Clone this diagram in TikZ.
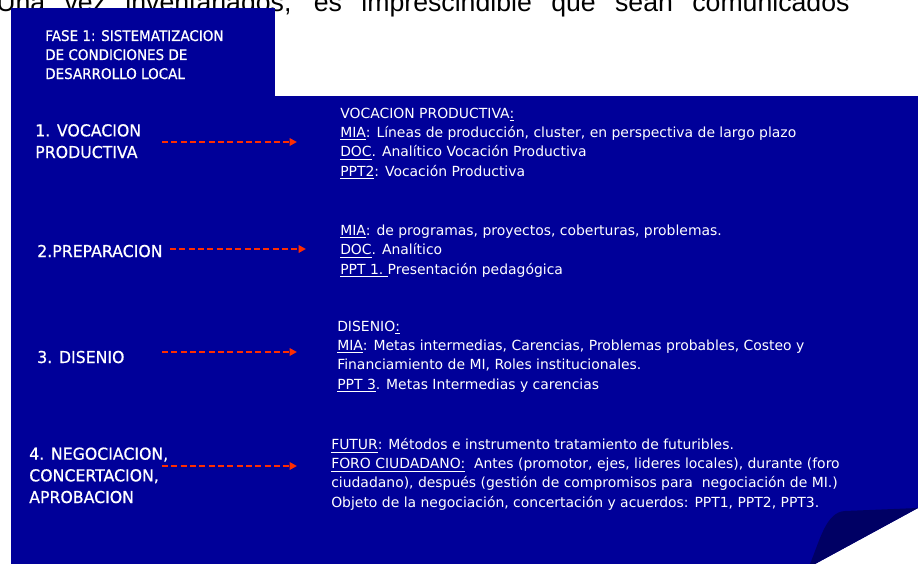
\documentclass[tikz,border=0pt]{standalone}
\usepackage{fontspec}
\setmainfont{DejaVu Sans}
\newfontfamily\phasefont{DejaVu Sans}[FakeStretch=0.92, FakeBold=0.6]
\newfontfamily\stepfont{DejaVu Sans}[FakeStretch=0.96, FakeBold=0.6]
\newfontfamily\headfont{Liberation Sans}
\usetikzlibrary{arrows.meta}
\definecolor{panelBlue}{RGB}{0,0,153}
\definecolor{foldBlue}{RGB}{0,0,100}
\definecolor{arrowRed}{RGB}{255,45,0}

\begin{document}
\begin{tikzpicture}[x = 0.75pt, y = -0.75pt]
	\tikzstyle{phaseStyle} = [anchor = base west, inner sep = 0pt, align = left, text = white, font = \phasefont\fontsize{11}{14.25}\selectfont]
	\tikzstyle{stepStyle} = [anchor = base west, inner sep = 0pt, align = left, text = white, font = \stepfont\fontsize{12.3}{16.25}\selectfont]
	\tikzstyle{detailStyle} = [anchor = base west, inner sep = 0pt, align = left, text = white, font = \fontsize{10.45}{14.3}\selectfont]
	\tikzstyle{linkStyle} = [draw = arrowRed, line width = 1.5pt, dash pattern = on 4.5pt off 2.5pt, -{Triangle[length = 5.5pt, width = 5.5pt]}]
	\useasboundingbox (0,0) rectangle (918,564);
	\clip (0,0) rectangle (918,564);
	\node[anchor = base west, inner sep = 0pt, font = \headfont\fontsize{20}{22}\selectfont] (h0) at (-4,12) {\makebox[640pt][s]{Una vez inventariados, es imprescindible que sean comunicados}};
	\fill[panelBlue] (11,8) rectangle (275,96);
	\fill[panelBlue] (11,96) -- (918,96) -- (918,508) -- (815,564) -- (11,564) -- cycle;
	\fill[foldBlue] (810,564) .. controls (820,540) and (826,512) .. (845,511) -- (918,508) -- (815,564) -- cycle;
	\node[phaseStyle] (p0) at (45,79) {FASE 1: SISTEMATIZACION\\DE CONDICIONES DE\\DESARROLLO LOCAL};
	\node[stepStyle] (l1) at (35,158) {1. VOCACION\\PRODUCTIVA};
	\node[stepStyle] (l2) at (37,257) {2.PREPARACION};
	\node[stepStyle] (l3) at (37,363) {3. DISENIO};
	\node[stepStyle] (l4) at (29,503) {4. NEGOCIACION,\\CONCERTACION,\\APROBACION};
	\node[detailStyle] (t1) at (340,176) {VOCACION PRODUCTIVA\underline{:}\\\underline{MIA}: Líneas de producción, cluster, en perspectiva de largo plazo\\\underline{DOC}. Analítico Vocación Productiva\\\underline{PPT2}: Vocación Productiva};
	\node[detailStyle] (t2) at (340,274) {\underline{MIA}: de programas, proyectos, coberturas, problemas.\\\underline{DOC}. Analítico\\\underline{PPT 1.\ }Presentación pedagógica};
	\node[detailStyle] (t3) at (337,389) {DISENIO\underline{:}\\\underline{MIA}: Metas intermedias, Carencias, Problemas probables, Costeo y\\Financiamiento de MI, Roles institucionales.\\\underline{PPT 3}. Metas Intermedias y carencias};
	\node[detailStyle] (t4) at (331,507) {\underline{FUTUR}: Métodos e instrumento tratamiento de futuribles.\\\underline{FORO CIUDADANO:}\ \ Antes (promotor, ejes, lideres locales), durante (foro\\ciudadano), después (gestión de compromisos para\ \ negociación de MI.)\\Objeto de la negociación, concertación y acuerdos: PPT1, PPT2, PPT3.};
	\coordinate (s1) at (162,142);
	\coordinate (e1) at (297,142);
	\coordinate (s2) at (170,249);
	\coordinate (e2) at (306,249);
	\coordinate (s3) at (162,352);
	\coordinate (e3) at (297,352);
	\coordinate (s4) at (162,466);
	\coordinate (e4) at (297,466);
	\draw[linkStyle] (s1) -- (e1);
	\draw[linkStyle] (s2) -- (e2);
	\draw[linkStyle] (s3) -- (e3);
	\draw[linkStyle] (s4) -- (e4);
\end{tikzpicture}
\end{document}
